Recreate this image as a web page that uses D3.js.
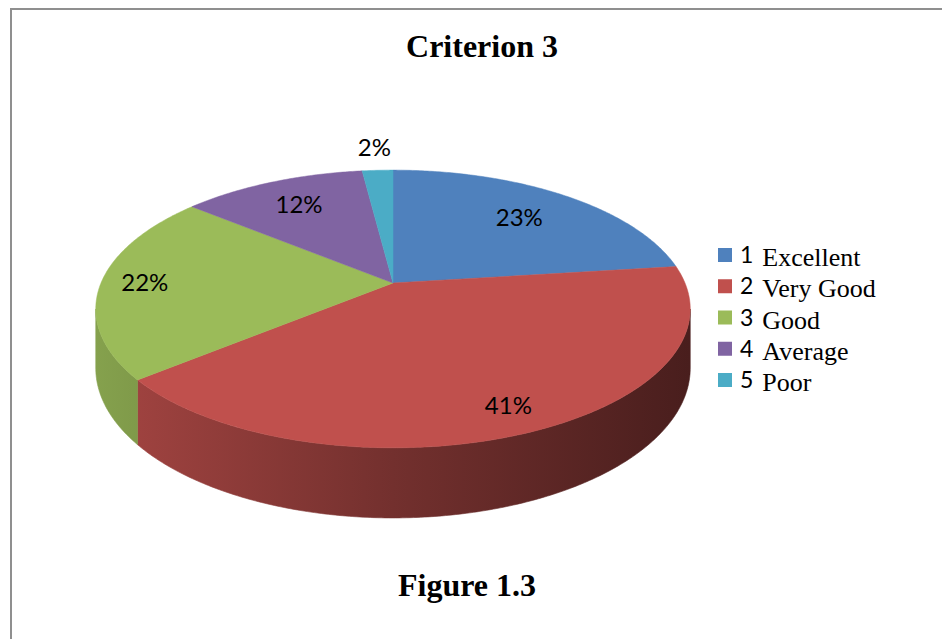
<!DOCTYPE html>
<html>
<head>
<meta charset="utf-8">
<script src="https://cdn.jsdelivr.net/npm/d3@7"></script>
<style>
  body { margin: 0; background: #fff; }
</style>
</head>
<body>
<div id="chart"></div>
<script>
// Data
var categories = ["Excellent", "Very Good", "Good", "Average", "Poor"];
var legendNums = ["1", "2", "3", "4", "5"];
var values = [23, 41, 22, 12, 2];
var colors = ["#4F81BD", "#C0504D", "#9BBB59", "#8064A2", "#4BACC6"];

// Layout
var svgWidth = 942;
var svgHeight = 639;
var cx = 393, cy = 283;       // apex of the pie
var A = 292, B = 134;         // radii of the tilted circle
var k = 0.187;                // perspective factor
var H = 57;                   // thickness
var labelRadius = [0.72, 0.85, 0.85, 0.75, 1.25];

var svg = d3.select("#chart")
  .append("svg")
  .attr("width", svgWidth)
  .attr("height", svgHeight);

svg.append("rect")
  .attr("width", svgWidth).attr("height", svgHeight)
  .attr("fill", "#fff");

// outer frame
svg.append("path")
  .attr("d", `M11,${svgHeight} V9 H${svgWidth}`)
  .attr("fill", "none")
  .attr("stroke", "#8f8f8f")
  .attr("stroke-width", 2);

// project a point on the tilted disc (angle from 12 o'clock, clockwise)
function proj(theta, f, depth) {
  var u = f * Math.sin(theta), v = f * Math.cos(theta);
  var w = 1 + k * v;
  return [cx + A * u / w, cy - B * v / w + depth * H / w];
}

function arcPoints(a0, a1, f, depth) {
  var n = Math.max(2, Math.ceil((a1 - a0) / 0.01));
  return d3.range(n + 1).map(function(i) {
    return proj(a0 + (a1 - a0) * i / n, f, depth);
  });
}

var pie = d3.pie().sort(null).value(d => d);
var arcs = pie(values);
var line = d3.line();

// side gradients
var defs = svg.append("defs");
var xMin = cx - A / Math.sqrt(1 - k * k), xMax = cx + A / Math.sqrt(1 - k * k);
colors.forEach(function(c, i) {
  var g = defs.append("linearGradient")
    .attr("id", "side" + i)
    .attr("gradientUnits", "userSpaceOnUse")
    .attr("x1", xMin).attr("x2", xMax).attr("y1", 0).attr("y2", 0);
  var base = d3.rgb(c);
  [[0, 0.86], [0.5, 0.6], [1, 0.38]].forEach(function(s) {
    g.append("stop")
      .attr("offset", s[0])
      .attr("stop-color", d3.rgb(base.r * s[1], base.g * s[1], base.b * s[1]).toString());
  });
});

// visible side range (silhouette where cos = -k)
var sideStart = Math.acos(-k);
var sideEnd = 2 * Math.PI - sideStart;

var sides = svg.append("g");
arcs.forEach(function(d, i) {
  var a0 = Math.max(d.startAngle, sideStart);
  var a1 = Math.min(d.endAngle, sideEnd);
  if (a1 <= a0) return;
  var top = arcPoints(a0, a1, 1, 0);
  var bottom = arcPoints(a0, a1, 1, 1).reverse();
  sides.append("path")
    .attr("d", line(top.concat(bottom)) + "Z")
    .attr("fill", "url(#side" + i + ")")
    .attr("stroke", "url(#side" + i + ")")
    .attr("stroke-width", 0.6);
});

// top faces
var tops = svg.append("g");
arcs.forEach(function(d, i) {
  var pts = [[cx, cy]].concat(arcPoints(d.startAngle, d.endAngle, 1, 0));
  tops.append("path")
    .attr("d", line(pts) + "Z")
    .attr("fill", colors[i])
    .attr("stroke", colors[i])
    .attr("stroke-width", 0.5)
    .attr("stroke-linejoin", "round");
});

// percent labels
var total = d3.sum(values);
svg.append("g")
  .selectAll("text")
  .data(arcs)
  .enter()
  .append("text")
  .attr("x", (d, i) => proj((d.startAngle + d.endAngle) / 2, labelRadius[i], 0)[0])
  .attr("y", (d, i) => proj((d.startAngle + d.endAngle) / 2, labelRadius[i], 0)[1])
  .attr("dy", "0.35em")
  .attr("text-anchor", "middle")
  .attr("font-family", "Lato, 'Open Sans', sans-serif")
  .attr("font-size", 24)
  .attr("fill", "#000")
  .text(d => Math.round(d.value / total * 100) + "%");

// title and caption
svg.append("text")
  .attr("x", 482).attr("y", 57)
  .attr("text-anchor", "middle")
  .attr("font-family", "'Liberation Serif', 'Times New Roman', serif")
  .attr("font-weight", "bold")
  .attr("font-size", 32)
  .text("Criterion 3");

svg.append("text")
  .attr("x", 467).attr("y", 596)
  .attr("text-anchor", "middle")
  .attr("font-family", "'Liberation Serif', 'Times New Roman', serif")
  .attr("font-weight", "bold")
  .attr("font-size", 32)
  .text("Figure 1.3");

// legend
var legendY = d3.scalePoint()
  .domain(categories)
  .range([255, 380]);

var legend = svg.append("g")
  .selectAll("g")
  .data(categories)
  .enter()
  .append("g")
  .attr("transform", d => `translate(718, ${legendY(d)})`);

legend.append("rect")
  .attr("x", 0).attr("y", -7)
  .attr("width", 14).attr("height", 14)
  .attr("fill", (d, i) => colors[i]);

var lt = legend.append("text")
  .attr("x", 22).attr("y", 8);
lt.append("tspan")
  .attr("font-family", "Lato, 'Open Sans', sans-serif")
  .attr("font-size", 23)
  .text((d, i) => legendNums[i]);
lt.append("tspan")
  .attr("dx", 9)
  .attr("font-family", "'Liberation Serif', 'Times New Roman', serif")
  .attr("font-size", 26)
  .attr("dy", 3)
  .text(d => d);
</script>
</body>
</html>
